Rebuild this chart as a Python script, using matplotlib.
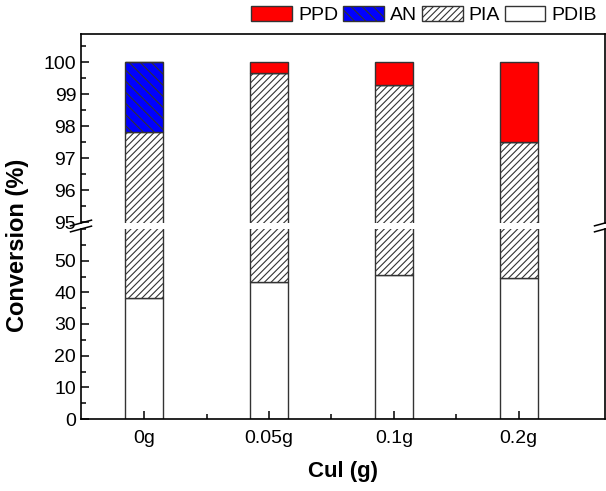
import matplotlib
matplotlib.use('Agg')
import numpy as np
import matplotlib.pyplot as plt
from matplotlib.patches import Patch
from matplotlib.ticker import MultipleLocator

plt.rcParams['font.family'] = ['Liberation Sans', 'DejaVu Sans']
plt.rcParams['hatch.linewidth'] = 0.8

# data
categories = ['0g', '0.05g', '0.1g', '0.2g']
pdib = [38.3, 43.3, 45.6, 44.6]
pia_top = [97.8, 99.65, 99.3, 97.5]
an = [2.2, 0.0, 0.0, 0.0]
ppd = [0.0, 0.35, 0.7, 2.5]

pia = [t - p for t, p in zip(pia_top, pdib)]
x = np.arange(len(categories))
W = 0.30
EDGE = '#333333'
AN_HATCH = '\\\\\\'

fig = plt.figure(figsize=(6.06, 4.91), dpi=100)
L, R = 81 / 606, 605 / 606
ax_top = fig.add_axes([L, 1 - 223 / 491, R - L, (223 - 34) / 491])
ax_bot = fig.add_axes([L, 1 - 419 / 491, R - L, (419 - 229) / 491])


def draw_bars(ax):
    ax.bar(x, pdib, W, color='white', edgecolor=EDGE, linewidth=1.0)
    ax.bar(x, pia, W, bottom=pdib, color='white', edgecolor=EDGE,
           hatch='/////', linewidth=1.0)
    b2 = np.array(pdib) + np.array(pia)
    ax.bar(x, an, W, bottom=b2, color='#0000ff', edgecolor=EDGE,
           hatch=AN_HATCH, linewidth=1.0)
    ax.bar(x, ppd, W, bottom=b2 + np.array(an), color='#ff0000',
           edgecolor=EDGE, linewidth=1.0)


for ax in (ax_top, ax_bot):
    draw_bars(ax)
    ax.set_xlim(-0.505, 3.69)
    for s in ax.spines.values():
        s.set_linewidth(1.2)
    ax.tick_params(which='both', direction='in', labelsize=14, width=1.1)
    ax.tick_params(which='major', length=6)
    ax.tick_params(which='minor', length=3.5)

ax_top.set_ylim(94.97, 100.88)
ax_top.yaxis.set_minor_locator(MultipleLocator(0.5))
ax_top.set_yticks([95, 96, 97, 98, 99, 100])
ax_top.spines['bottom'].set_visible(False)
ax_top.tick_params(axis='x', which='both', bottom=False, labelbottom=False)

ax_bot.set_ylim(0, 60)
ax_bot.set_yticks([0, 10, 20, 30, 40, 50])
ax_bot.yaxis.set_minor_locator(MultipleLocator(5))
ax_bot.spines['top'].set_visible(False)
ax_bot.set_xticks(x)
ax_bot.set_xticklabels(categories)
ax_bot.set_xticks([0.5, 1.5, 2.5], minor=True)
ax_bot.tick_params(axis='x', which='both', pad=8)

# break marks on both spines
for ax, y0 in ((ax_top, 0.0), (ax_bot, 1.0)):
    for xs in (0.0, 1.0):
        ax.plot([xs - 0.02, xs + 0.02], [y0 - 0.015, y0 + 0.015],
                transform=ax.transAxes, color='black', lw=1.1, clip_on=False)

ax_bot.set_xlabel('Cul (g)', fontsize=16, fontweight='bold', labelpad=10)
fig.text(0.029, 1 - 245 / 491, 'Conversion (%)',
         rotation=90, ha='center', va='center', fontsize=17, fontweight='bold')

handles = [
    Patch(facecolor='#ff0000', edgecolor=EDGE, label='PPD'),
    Patch(facecolor='#0000ff', edgecolor=EDGE, hatch=AN_HATCH, label='AN'),
    Patch(facecolor='white', edgecolor=EDGE, hatch='/////', label='PIA'),
    Patch(facecolor='white', edgecolor=EDGE, label='PDIB'),
]
fig.legend(handles=handles, ncol=4, loc='upper right',
           bbox_to_anchor=(1.004, 1.012), frameon=False, fontsize=14,
           handlelength=2.1, handleheight=0.8, handletextpad=0.3,
           columnspacing=0.25, borderaxespad=0.2)

plt.savefig('out.png', dpi=100)
plt.close()
